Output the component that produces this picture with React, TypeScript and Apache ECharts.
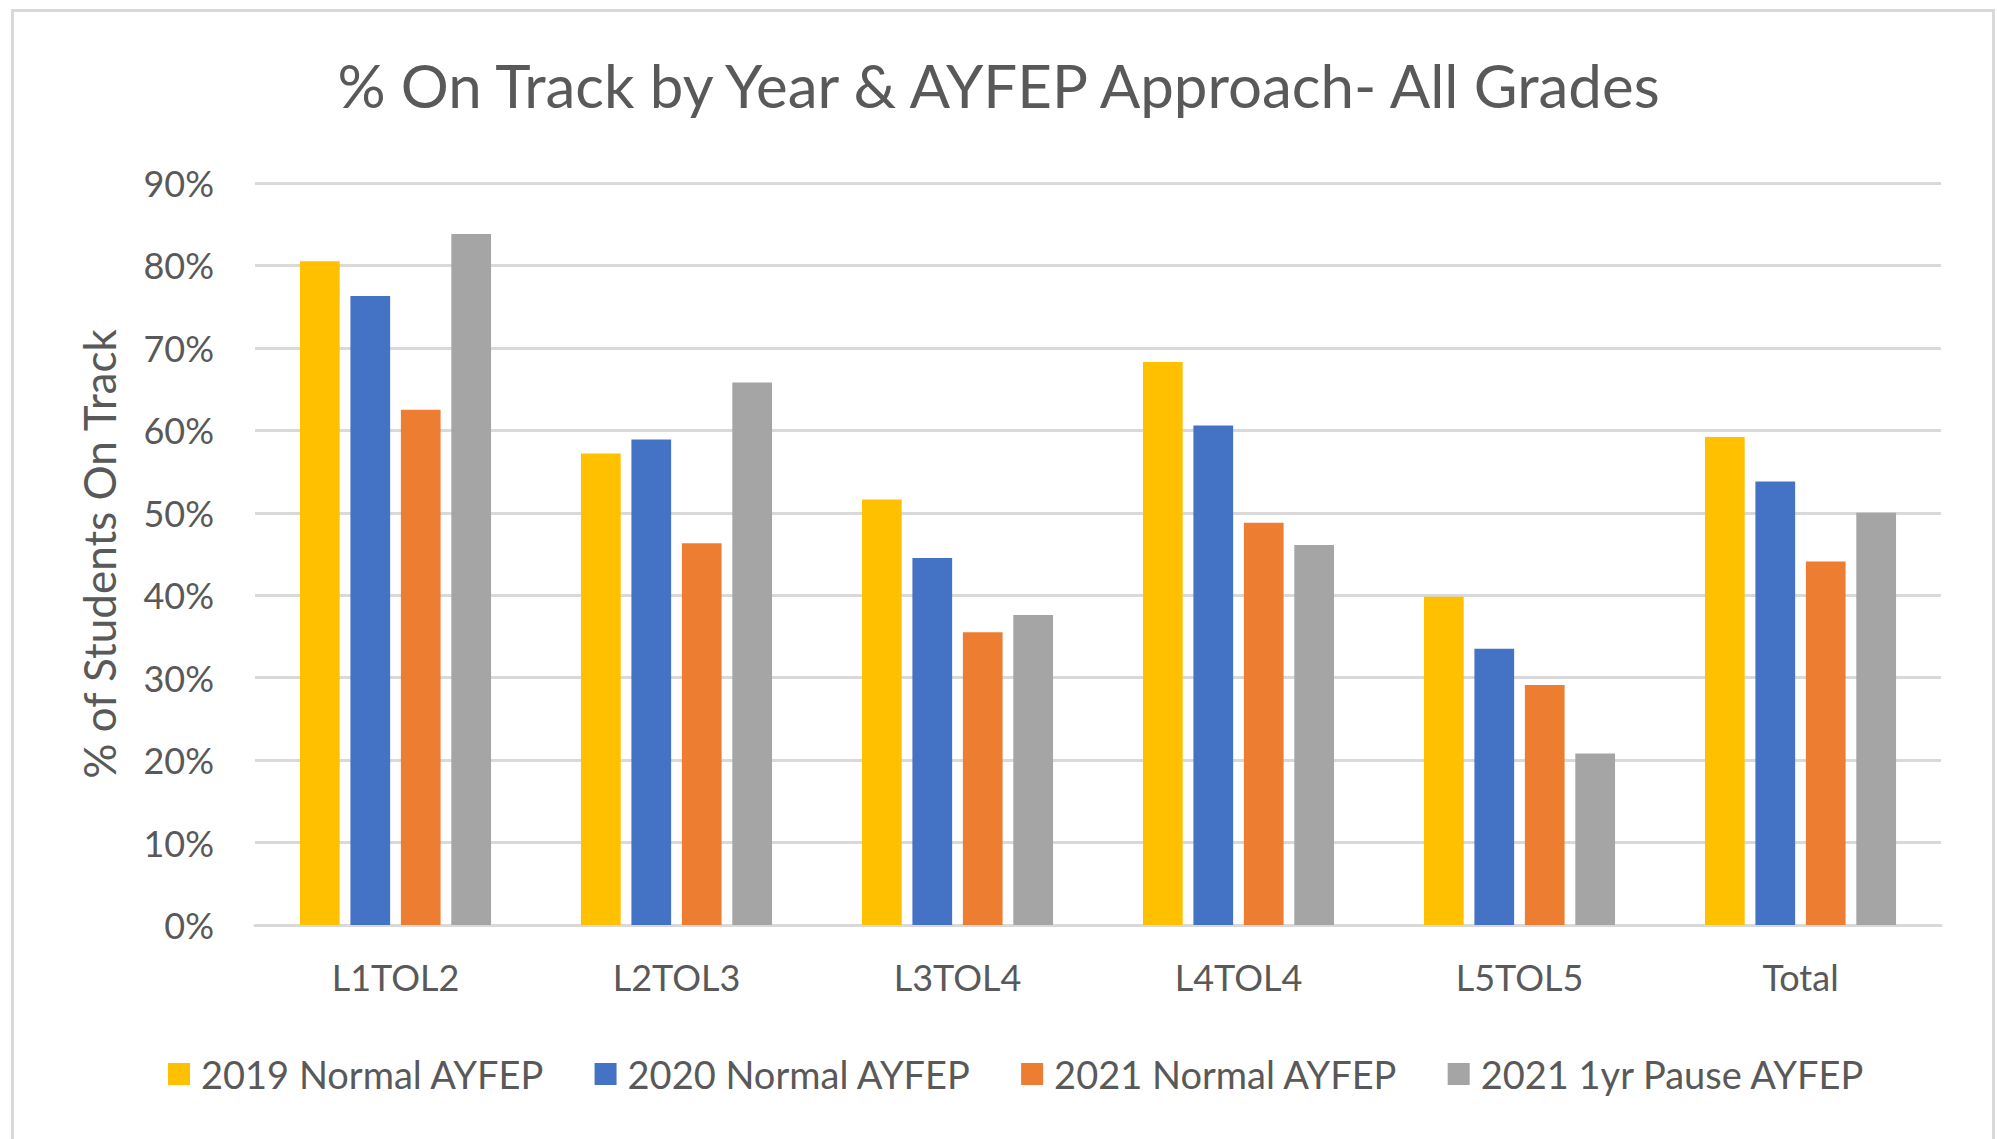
import React, { useEffect, useRef } from "react";
import * as echarts from "echarts";

const categories = ["L1TOL2", "L2TOL3", "L3TOL4", "L4TOL4", "L5TOL5", "Total"];
const seriesNames = ["2019 Normal AYFEP", "2020 Normal AYFEP", "2021 Normal AYFEP", "2021 1yr Pause AYFEP"];
const values2019 = [80.5, 57.2, 51.6, 68.3, 39.8, 59.2];
const values2020 = [76.3, 58.9, 44.5, 60.6, 33.5, 53.8];
const values2021 = [62.5, 46.3, 35.5, 48.8, 29.1, 44.1];
const values2021Pause = [83.8, 65.8, 37.6, 46.1, 20.8, 50.0];
const colors = ["#FFC000", "#4472C4", "#ED7D31", "#A5A5A5"];
const yTicks = { min: 0, max: 90, interval: 10 };

const FONT = "Lato";
const TEXT = "#595959";

export default function App() {
  const ref = useRef<HTMLDivElement>(null);
  useEffect(() => {
    if (!ref.current) return;
    const chart = echarts.init(ref.current, null, { renderer: "svg" });
    const data = [values2019, values2020, values2021, values2021Pause];
    chart.setOption({
      animation: false,
      backgroundColor: "#ffffff",
      title: {
        text: "% On Track by Year & AYFEP Approach- All Grades",
        left: "center",
        top: 50,
        textStyle: { fontFamily: FONT, fontSize: 60, fontWeight: "normal", color: TEXT },
      },
      legend: {
        data: seriesNames,
        top: 1050,
        left: 163,
        icon: "rect",
        itemWidth: 22,
        itemHeight: 22,
        itemGap: 50,
        textStyle: { fontFamily: FONT, fontSize: 38, color: TEXT, padding: [0, 0, 0, 6] },
      },
      grid: { left: 255, right: 56, top: 183, bottom: 214, containLabel: false },
      xAxis: {
        type: "category",
        data: categories,
        axisLine: { lineStyle: { color: "#d9d9d9", width: 3 } },
        axisTick: { show: false },
        axisLabel: { fontFamily: FONT, fontSize: 36, color: TEXT, margin: 34 },
      },
      yAxis: {
        type: "value",
        min: yTicks.min,
        max: yTicks.max,
        interval: yTicks.interval,
        name: "% of Students On Track",
        nameLocation: "middle",
        nameRotate: 90,
        nameGap: 134,
        nameTextStyle: { fontFamily: FONT, fontSize: 44, color: TEXT },
        axisLine: { show: false },
        axisTick: { show: false },
        axisLabel: { formatter: "{value}%", fontFamily: FONT, fontSize: 36, color: TEXT, margin: 41 },
        splitLine: { lineStyle: { color: "#d9d9d9", width: 3 } },
      },
      graphic: [
        {
          type: "rect",
          left: 10,
          top: 8,
          shape: { x: 0, y: 0, width: 1981, height: 1200 },
          style: { fill: "none", stroke: "#d9d9d9", lineWidth: 3 },
          silent: true,
        },
      ],
      series: seriesNames.map((name, i) => ({
        name,
        type: "bar",
        data: data[i],
        itemStyle: { color: colors[i] },
        barGap: "27%",
        barCategoryGap: "32%",
      })),
    });
    return () => chart.dispose();
  }, []);
  return (
    <div
      ref={ref}
      style={{ position: "fixed", left: 0, top: 0, width: 1997, height: 1139 }}
    />
  );
}
